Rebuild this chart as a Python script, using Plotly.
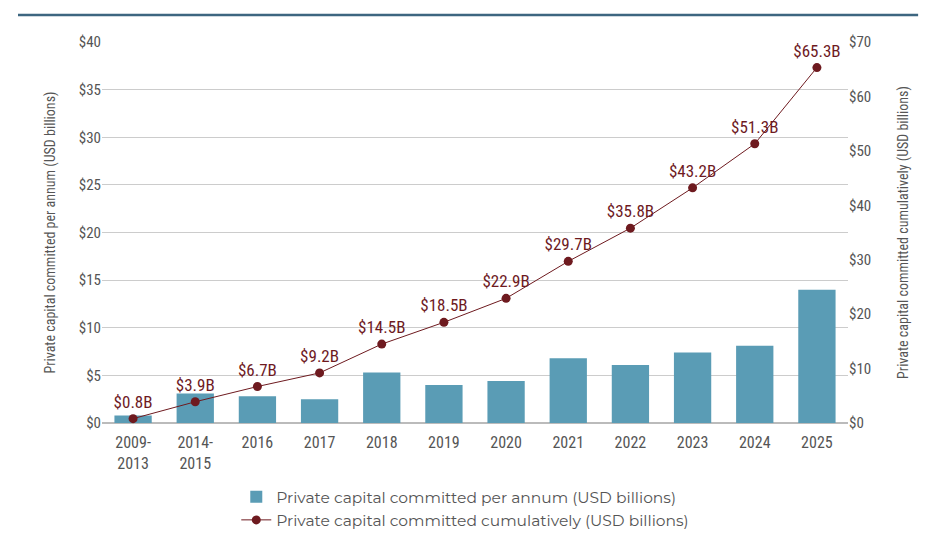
import plotly.graph_objects as go

categories = ["2009-<br>2013", "2014-<br>2015", "2016", "2017", "2018", "2019", "2020",
              "2021", "2022", "2023", "2024", "2025"]
per_annum = [0.8, 3.1, 2.8, 2.5, 5.3, 4.0, 4.4, 6.8, 6.1, 7.4, 8.1, 14.0]
cumulative = [0.8, 3.9, 6.7, 9.2, 14.5, 18.5, 22.9, 29.7, 35.8, 43.2, 51.3, 65.3]
cum_labels = ["$0.8B", "$3.9B", "$6.7B", "$9.2B", "$14.5B", "$18.5B", "$22.9B",
              "$29.7B", "$35.8B", "$43.2B", "$51.3B", "$65.3B"]
left_ticks = [0, 5, 10, 15, 20, 25, 30, 35, 40]
right_ticks = [0, 10, 20, 30, 40, 50, 60, 70]

COND = "Liberation Sans Narrow, Roboto Condensed, Roboto, sans-serif"
BAR = "#5a9cb5"
LINE = "#6e1a1f"

fig = go.Figure()
fig.add_trace(go.Bar(
    x=categories, y=per_annum, name="Private capital committed per annum (USD billions)",
    marker=dict(color=BAR, line=dict(width=0)), yaxis="y",
))
fig.add_trace(go.Scatter(
    x=categories, y=cumulative, name="Private capital committed cumulatively (USD billions)",
    mode="lines+markers+text", text=cum_labels, textposition="top center",
    textfont=dict(family=COND, size=17, color=LINE),
    line=dict(color=LINE, width=1), marker=dict(color=LINE, size=9),
    yaxis="y2", cliponaxis=False,
))

fig.update_layout(
    width=935, height=543,
    margin=dict(l=102, r=87, t=42, b=120, autoexpand=False),
    paper_bgcolor="white", plot_bgcolor="white",
    bargap=0.4,
    showlegend=True,
    legend=dict(orientation="v", x=0.18, xanchor="left", y=-0.15, yanchor="top",
                font=dict(family="Montserrat, Open Sans, sans-serif", size=15.5, color="#555555"),
                tracegroupgap=6, itemwidth=30),
    xaxis=dict(range=[-0.5, len(categories) - 0.5],
               tickfont=dict(family=COND, size=16, color="#555555"),
               showgrid=False, ticks="outside", ticklen=5, tickcolor="rgba(0,0,0,0)",
               showline=False, automargin=False),
    yaxis=dict(range=[0, 40], tickvals=left_ticks,
               ticktext=["$" + str(v) for v in left_ticks],
               tickfont=dict(family=COND, size=15, color="#555555"),
               gridcolor="#cccccc", gridwidth=1, zeroline=True, zerolinecolor="#bbbbbb",
               ticks="", ticklen=0, automargin=False,
               title=dict(text="Private capital committed per annum (USD billions)",
                          font=dict(family=COND, size=14, color="#555555"), standoff=19)),
    yaxis2=dict(range=[0, 70], tickvals=right_ticks,
                ticktext=["$" + str(v) for v in right_ticks],
                overlaying="y", side="right", showgrid=False, zeroline=False,
                tickfont=dict(family=COND, size=15, color="#555555"),
                ticks="", ticklen=0, automargin=False,
                title=dict(text="Private capital committed cumulatively (USD billions)",
                           font=dict(family=COND, size=14, color="#555555"), standoff=27)),
    shapes=[dict(type="line", xref="paper", yref="paper", x0=-0.1126, x1=1.094,
                 y0=1.071, y1=1.071, line=dict(color="#3d6680", width=2.5))],
)

fig.write_html("out.html")
